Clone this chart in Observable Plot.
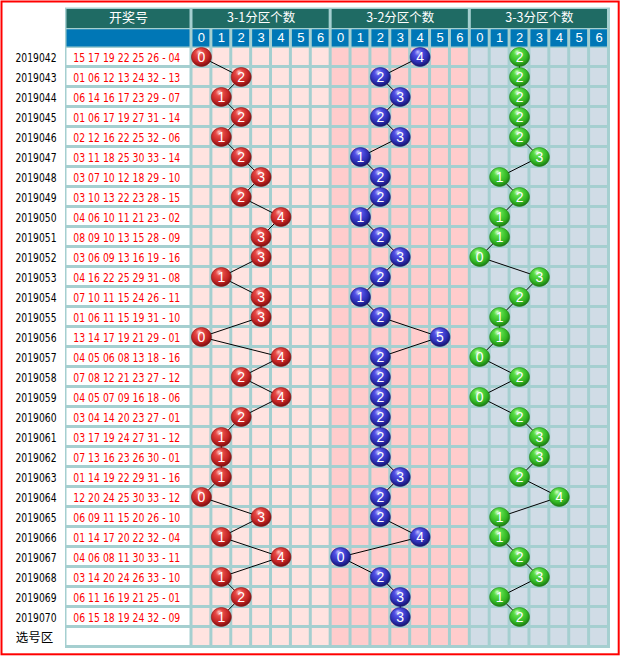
<!DOCTYPE html>
<html><head><meta charset="utf-8">
<script src="https://cdn.jsdelivr.net/npm/d3@7"></script>
<script src="https://cdn.jsdelivr.net/npm/@observablehq/plot@0.6"></script>
<style>body{margin:0;background:#fff}svg{display:block}</style>
</head><body><div id="chart"></div>
<script>
// ---------- data ----------
const periods = ["2019042","2019043","2019044","2019045","2019046","2019047","2019048","2019049","2019050","2019051","2019052","2019053","2019054","2019055","2019056","2019057","2019058","2019059","2019060","2019061","2019062","2019063","2019064","2019065","2019066","2019067","2019068","2019069","2019070"];
const draws = [
  "15 17 19 22 25 26 - 04","01 06 12 13 24 32 - 13","06 14 16 17 23 29 - 07","01 06 17 19 27 31 - 14",
  "02 12 16 22 25 32 - 06","03 11 18 25 30 33 - 14","03 07 10 12 18 29 - 10","03 10 13 22 23 28 - 15",
  "04 06 10 11 21 23 - 02","08 09 10 13 15 28 - 09","03 06 09 13 16 19 - 16","04 16 22 25 29 31 - 08",
  "07 10 11 15 24 26 - 11","01 06 11 15 19 31 - 10","13 14 17 19 21 29 - 01","04 05 06 08 13 18 - 16",
  "07 08 12 21 23 27 - 12","04 05 07 09 16 18 - 06","03 04 14 20 23 27 - 01","03 17 19 24 27 31 - 12",
  "07 13 16 23 26 30 - 01","01 14 19 22 29 31 - 16","12 20 24 25 30 33 - 12","06 09 11 15 20 26 - 10",
  "01 14 17 20 22 32 - 04","04 06 08 11 30 33 - 11","03 14 20 24 26 33 - 10","06 11 16 19 21 25 - 01",
  "06 15 18 19 24 32 - 09"];
const zone1 = [0,2,1,2,1,2,3,2,4,3,3,1,3,3,0,4,2,4,2,1,1,1,0,3,1,4,1,2,1];
const zone2 = [4,2,3,2,3,1,2,2,1,2,3,2,1,2,5,2,2,2,2,2,2,3,2,2,4,0,2,3,3];
const zone3 = [2,2,2,2,2,3,1,2,1,1,0,3,2,1,1,0,2,0,2,3,3,2,4,1,1,2,3,1,2];
const zoneTitles = ["3-1分区个数","3-2分区个数","3-3分区个数"];
const countTicks = [0,1,2,3,4,5,6];
const drawHeader = "开奖号";
const pickLabel = "选号区";

// ---------- styling ----------
const W = 621, H = 656;
const colPx = 19.88, col0Px = 191;     // count-cell pitch, left edge of first count cell
const rowPx = 20, row0Px = 46.5;       // row pitch, top of first data row
const toUx = px => (px - col0Px) / colPx;
const gridColor = "#A5CFD0";
const teal = "#1F6B64", blue = "#0077B6";
const zoneFill = ["#FFE3E0", "#FFCCCC", "#D0DCE6"];
const ballFill = ["url(#gRed)", "url(#gBlue)", "url(#gGreen)"];
const ballStroke = ["#8a1414", "#1c1c80", "#22861a"];
const drawX1 = toUx(65), drawX2 = 0, labelX = toUx(35.5);
const nCols = zoneTitles.length * countTicks.length;
const nRows = periods.length + 1;

const cells = [];
for (let r = 0; r < nRows; r++)
  zoneTitles.forEach((t, z) => countTicks.forEach(k => cells.push({r, z, c: z * countTicks.length + k})));
const subHeads = [];
zoneTitles.forEach((t, z) => countTicks.forEach(k => subHeads.push({k, c: z * countTicks.length + k})));
const balls = [];
[zone1, zone2, zone3].forEach((arr, z) => arr.forEach((v, r) => balls.push({r, z, v, c: z * countTicks.length + v})));
const zoneHeads = zoneTitles.map((t, z) => ({t, x1: z * countTicks.length, x2: (z + 1) * countTicks.length}));
const drawRows = [...periods.map((p, r) => ({r, t: draws[r]})), {r: periods.length, t: ""}];

const ellipse = {
  draw(ctx) {
    const rx = 10, ry = 9.4, k = 0.5523;
    ctx.moveTo(rx, 0);
    ctx.bezierCurveTo(rx, ry * k, rx * k, ry, 0, ry);
    ctx.bezierCurveTo(-rx * k, ry, -rx, ry * k, -rx, 0);
    ctx.bezierCurveTo(-rx, -ry * k, -rx * k, -ry, 0, -ry);
    ctx.bezierCurveTo(rx * k, -ry, rx, -ry * k, rx, 0);
    ctx.closePath();
  }
};

const numFont = "Liberation Sans, Arial, sans-serif";
const narrowFont = "Liberation Sans Narrow, DejaVu Sans Condensed, Liberation Sans, sans-serif";
const cjkFont = "Noto Sans CJK SC, sans-serif";

const svg = Plot.plot({
  width: W, height: H,
  marginTop: 0, marginRight: 0, marginBottom: 0, marginLeft: 0,
  x: {domain: [toUx(0), toUx(W)], range: [0, W], axis: null},
  y: {domain: [-row0Px / rowPx, (H - row0Px) / rowPx], range: [0, H], axis: null},
  style: {background: "white"},
  marks: [
    Plot.rect([{}], {x1: drawX1, x2: nCols, y1: -2, y2: nRows, fill: gridColor, insetTop: 1, insetRight: -1.5, insetBottom: -1.5}),
    Plot.rect([{x1: drawX1, x2: drawX2}, ...zoneHeads], {x1: "x1", x2: "x2", y1: -2, y2: -1, fill: teal,
      insetLeft: 1.5, insetRight: 1.5, insetTop: 2.5, insetBottom: -1.5}),
    Plot.rect([{x1: drawX1, x2: drawX2}], {x1: "x1", x2: "x2", y1: -1, y2: 0, fill: blue,
      insetLeft: 1.5, insetRight: 1.5, insetTop: 2.8, insetBottom: 0}),
    Plot.rect(subHeads, {x1: "c", x2: d => d.c + 1, y1: -1, y2: 0, fill: blue,
      insetLeft: 1.5, insetRight: 1.5, insetTop: 2.8, insetBottom: 0}),
    Plot.rect(drawRows, {x1: drawX1, x2: drawX2, y1: "r", y2: d => d.r + 1, fill: "white", inset: 1.5}),
    Plot.rect(cells, {x1: "c", x2: d => d.c + 1, y1: "r", y2: d => d.r + 1, fill: d => zoneFill[d.z], inset: 1.5}),
    Plot.line(balls, {x: d => d.c + 0.5, y: d => d.r + 0.5, z: "z", stroke: "black", strokeWidth: 1}),
    ...[0, 1, 2].map(z => Plot.dot(balls.filter(d => d.z === z), {x: d => d.c + 0.5, y: d => d.r + 0.5,
      symbol: ellipse, fill: ballFill[z], stroke: ballStroke[z], strokeWidth: 0.6})),
    Plot.text(balls, {x: d => d.c + 0.5, y: d => d.r + 0.5, text: d => String(d.v), fill: "white",
      fontSize: 14, fontFamily: numFont, dy: 0.5}),
    Plot.text([drawHeader], {x: (drawX1 + drawX2) / 2, y: -1.5, text: d => d, fill: "white", fontSize: 13, fontFamily: cjkFont, dy: 1}),
    Plot.text(zoneHeads, {x: d => (d.x1 + d.x2) / 2, y: -1.5, text: "t", fill: "white", fontSize: 12.5, fontFamily: cjkFont, dy: 1}),
    Plot.text(subHeads, {x: d => d.c + 0.5, y: -0.5, text: d => String(d.k), fill: "white", fontSize: 13, fontFamily: numFont, dy: 0.5}),
    Plot.text(periods, {x: labelX, y: (d, i) => i + 0.5, text: d => d, fill: "black", fontSize: 13,
      fontFamily: narrowFont, dy: 0.5}),
    Plot.text([pickLabel], {x: labelX - 0.08, y: periods.length + 0.5, text: d => d, fill: "black", fontSize: 12.5, fontFamily: cjkFont, dy: 0.5}),
    Plot.text(drawRows.filter(d => d.t), {x: toUx(126.3), y: d => d.r + 0.5, text: "t", fill: "#FF0000", fontSize: 13,
      fontFamily: narrowFont, dy: 0.5}),
    Plot.frame({stroke: "#FF0000", strokeWidth: 2, insetLeft: 1, insetTop: 1, insetRight: 2.8, insetBottom: 2.2})
  ]
});

// gradients for balls
const ns = "http://www.w3.org/2000/svg";
const defs = document.createElementNS(ns, "defs");
const grads = [
  ["gRed",   ["#FFC2BA", "#E64A46", "#C42424", "#7E0E0E"]],
  ["gBlue",  ["#C0C0FF", "#5252E6", "#2E2EB4", "#15156C"]],
  ["gGreen", ["#D6FFC8", "#5ADC48", "#34B824", "#1C7A12"]]
];
for (const [id, cols] of grads) {
  const g = document.createElementNS(ns, "radialGradient");
  g.setAttribute("id", id);
  g.setAttribute("cx", "0.45"); g.setAttribute("cy", "0.4"); g.setAttribute("r", "0.6");
  g.setAttribute("fx", "0.38"); g.setAttribute("fy", "0.22");
  [0, 0.3, 0.72, 1].forEach((o, i) => {
    const s = document.createElementNS(ns, "stop");
    s.setAttribute("offset", o); s.setAttribute("stop-color", cols[i]);
    g.appendChild(s);
  });
  defs.appendChild(g);
}
svg.insertBefore(defs, svg.firstChild);
const drawSet = new Set(draws), periodSet = new Set(periods);
svg.querySelectorAll("text").forEach(t => {
  const s = t.textContent.trim();
  if (drawSet.has(s)) { t.setAttribute("textLength", 107); t.setAttribute("lengthAdjust", "spacingAndGlyphs"); }
  else if (periodSet.has(s)) { t.setAttribute("textLength", 41); t.setAttribute("lengthAdjust", "spacingAndGlyphs"); }
});
document.getElementById("chart").appendChild(svg);
</script>
</body></html>
